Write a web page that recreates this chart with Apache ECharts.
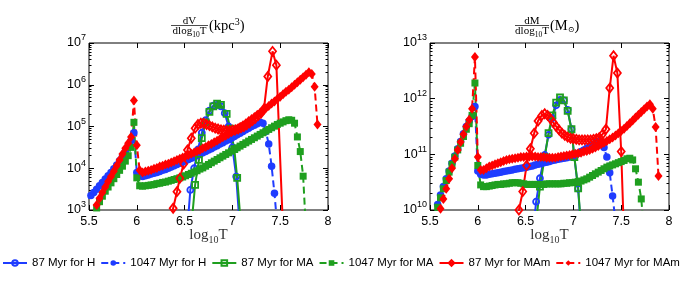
<!DOCTYPE html>
<html>
<head>
<meta charset="utf-8">
<script src="https://cdn.jsdelivr.net/npm/echarts@6.0.0/dist/echarts.min.js"></script>
<style>
html,body{margin:0;padding:0;background:#fff;}
#c{width:682px;height:281px;}
</style>
</head>
<body>
<div id="c"></div>
<script>
// ---------- DATA ----------
const logT = [
5.49,5.52,5.55,5.58,5.61,5.64,5.67,5.70,5.73,5.76,
5.79,5.82,5.85,5.88,5.91,5.94,5.97,6.00,6.03,6.06,
6.09,6.12,6.15,6.18,6.21,6.24,6.27,6.30,6.33,6.36,
6.39,6.42,6.45,6.48,6.51,6.54,6.57,6.60,6.63,6.66,
6.69,6.72,6.75,6.78,6.81,6.84,6.87,6.90,6.93,6.96,
6.99,7.02,7.05,7.08,7.11,7.14,7.17,7.20,7.23,7.26,
7.29,7.32,7.35,7.38,7.41,7.44,7.47,7.50,7.53,7.56,
7.59,7.62,7.65,7.68,7.71,7.74,7.77,7.80,7.83,7.86,
7.89];

const xTicks = [5.5, 6, 6.5, 7, 7.5, 8];
const vYTicks = [1e3, 1e4, 1e5, 1e6, 1e7];
const mYTicks = [1e10, 1e11, 1e12, 1e13];

// dV/dlogT (kpc^3), 1047 Myr series on the logT grid
const vH1047 = [
1900,2240,2630,3160,3800,4570,5500,6610,7940,9770,
12000,15100,19100,25100,33100,45700,70800,7940,6610,6310,
6610,6920,7240,7590,7940,8320,8910,9330,10000,10700,
11500,12300,13200,14100,15100,16200,17400,18600,20000,21400,
23400,25100,27500,29500,32400,34700,38000,40700,44700,47900,
52500,57500,63100,69200,75900,83200,91200,100000,107000,117000,
126000,120000,75900,38000,11200,2510,400];
const vMA1047 = [
355,525,794,1120,1580,2140,2820,3550,4470,5620,
7080,8910,11200,14800,20000,31600,126000,5890,3800,3720,
3800,3890,3980,4070,4270,4370,4570,4680,4900,5130,
5370,5620,5890,6170,6610,7080,7590,8130,8710,9550,
10200,11200,12300,13500,14800,16200,17800,19500,21400,23400,
25700,28200,30900,33900,37200,40700,44700,49000,53700,58900,
64600,70800,77600,85100,93300,102000,112000,120000,129000,138000,
145000,141000,120000,56200,25100,6460,316];
const vMAm1047 = [
400,600,890,1320,1900,2630,3550,4790,6310,8510,
11500,15800,21900,30200,39800,56200,417000,35500,8910,7940,
8320,8710,9120,9770,10200,11000,11500,12300,12900,13800,
14800,15800,17000,18200,19500,20900,22400,24000,25700,27500,
30200,32400,35500,38000,41700,45700,50100,55000,60300,66100,
72400,79400,87100,97700,107000,120000,135000,151000,170000,191000,
214000,240000,275000,309000,355000,398000,457000,513000,589000,676000,
759000,871000,1000000,1150000,1320000,1510000,1740000,2000000,1820000,891000,
112000];

// dV/dlogT, 87 Myr series as [logT, value]
const vH87 = [[6.52,200],[6.56,3020],[6.60,10000],[6.64,28200],[6.68,70800],[6.72,141000],[6.76,240000],
[6.80,316000],[6.84,331000],[6.88,302000],[6.92,209000],[6.96,100000],[7.00,31600],[7.04,6310],[7.08,316]];
const vMA87 = [[6.57,400],[6.61,3980],[6.65,15800],[6.68,52500],[6.72,126000],[6.76,224000],[6.80,302000],
[6.84,355000],[6.88,331000],[6.94,200000],[6.98,89100],[7.02,28800],[7.05,5890],[7.09,400]];
const vMAm87 = [[6.34,316],[6.38,1100],[6.42,2750],[6.45,5750],[6.49,12600],[6.53,27500],[6.57,52500],
[6.61,91200],[6.64,112000],[6.67,120000],[6.70,120000],[6.73,112000],[6.76,105000],[6.79,97700],
[6.82,91200],[6.85,87100],[6.88,83200],[6.91,81300],[6.94,79400],[6.97,79400],[7.00,81300],
[7.03,83200],[7.06,87100],[7.09,93300],[7.12,100000],[7.15,110000],[7.18,123000],[7.21,138000],
[7.24,158000],[7.27,182000],[7.30,209000],[7.33,263000],[7.37,1580000],[7.42,6310000],
[7.46,2950000],[7.53,316]];

// dM/dlogT (Msun), 1047 Myr series on the logT grid
const mH1047 = [
3.98e9,5.62e9,8.32e9,1.26e10,1.86e10,2.63e10,3.63e10,5.01e10,6.92e10,9.33e10,
1.26e11,1.70e11,2.34e11,3.16e11,3.98e11,4.79e11,7.24e11,5.01e10,4.37e10,4.27e10,
4.27e10,4.37e10,4.47e10,4.57e10,4.68e10,4.79e10,4.90e10,5.01e10,5.13e10,5.25e10,
5.37e10,5.50e10,5.62e10,5.75e10,5.89e10,6.03e10,6.17e10,6.46e10,6.61e10,6.76e10,
7.08e10,7.24e10,7.41e10,7.76e10,7.94e10,8.13e10,8.32e10,8.51e10,8.71e10,8.91e10,
9.33e10,9.77e10,1.05e11,1.12e11,1.20e11,1.29e11,1.38e11,1.48e11,1.58e11,1.66e11,
1.70e11,1.32e11,8.91e10,4.68e10,1.78e10,6.31e9];
const mMA1047 = [
3.55e9,5.01e9,7.41e9,1.12e10,1.66e10,2.40e10,3.39e10,4.79e10,6.61e10,8.91e10,
1.20e11,1.58e11,2.09e11,2.82e11,3.55e11,5.01e11,1.91e12,6.31e10,2.82e10,2.63e10,
2.63e10,2.69e10,2.75e10,2.82e10,2.88e10,2.88e10,2.95e10,2.95e10,3.02e10,3.09e10,
3.09e10,3.09e10,3.02e10,2.95e10,2.88e10,2.88e10,2.88e10,2.88e10,2.88e10,2.88e10,
2.88e10,2.95e10,2.95e10,2.95e10,2.95e10,2.95e10,2.95e10,3.02e10,3.02e10,3.09e10,
3.09e10,3.16e10,3.24e10,3.31e10,3.47e10,3.63e10,3.89e10,4.17e10,4.47e10,4.79e10,
5.13e10,5.50e10,5.89e10,6.17e10,6.46e10,6.76e10,7.08e10,7.41e10,7.76e10,8.32e10,
8.51e10,7.94e10,5.50e10,3.16e10,1.58e10,3.98e9];
const mMAm1047 = [
2.51e9,3.55e9,5.01e9,7.08e9,1.05e10,1.58e10,2.40e10,3.63e10,5.62e10,8.32e10,
1.20e11,1.66e11,2.29e11,3.16e11,4.17e11,6.61e11,5.62e12,8.91e10,5.25e10,5.25e10,
5.62e10,6.03e10,6.31e10,6.61e10,6.92e10,7.24e10,7.59e10,7.94e10,8.13e10,8.32e10,
8.51e10,8.71e10,8.91e10,8.91e10,9.12e10,9.12e10,9.12e10,9.12e10,8.91e10,8.91e10,
8.91e10,8.71e10,8.71e10,8.71e10,8.71e10,8.91e10,9.12e10,9.33e10,9.55e10,9.77e10,
1.00e11,1.02e11,1.05e11,1.07e11,1.12e11,1.15e11,1.20e11,1.26e11,1.32e11,1.41e11,
1.51e11,1.62e11,1.74e11,1.86e11,2.00e11,2.19e11,2.40e11,2.63e11,2.88e11,3.24e11,
3.63e11,4.07e11,4.57e11,5.13e11,5.75e11,6.46e11,7.24e11,7.94e11,6.61e11,3.09e11,
4.07e10];

// dM/dlogT, 87 Myr series as [logT, value]
const mH87 = [[6.58,3.98e9],[6.61,1.41e10],[6.65,3.72e10],[6.70,9.77e10],[6.74,2.24e11],[6.78,4.47e11],
[6.82,7.59e11],[6.86,9.55e11],[6.90,9.33e11],[6.94,6.31e11],[6.98,2.82e11],[7.01,8.91e10],[7.05,2.40e10],[7.08,3.98e9]];
const mMA87 = [[6.60,3.98e9],[6.65,2.63e10],[6.70,8.91e10],[6.74,2.40e11],[6.78,5.01e11],[6.82,8.51e11],
[6.86,1.05e12],[6.90,9.33e11],[6.94,6.03e11],[6.98,2.82e11],[7.01,8.91e10],[7.05,2.45e10],[7.08,5.01e9]];
const mMAm87 = [[6.40,3.98e9],[6.43,1.0e10],[6.47,2.14e10],[6.51,6.31e10],[6.55,1.26e11],[6.59,2.40e11],
[6.63,3.98e11],[6.67,5.01e11],[6.70,5.37e11],[6.73,5.01e11],[6.76,4.37e11],[6.79,3.72e11],[6.82,3.16e11],
[6.85,2.75e11],[6.88,2.40e11],[6.91,2.19e11],[6.94,2.04e11],[6.97,1.95e11],[7.00,1.91e11],[7.03,1.86e11],
[7.06,1.82e11],[7.09,1.82e11],[7.12,1.82e11],[7.15,1.82e11],[7.18,1.82e11],[7.21,1.86e11],[7.24,1.91e11],
[7.27,2.00e11],[7.30,2.24e11],[7.34,2.82e11],[7.38,1.55e12],[7.42,5.89e12],[7.46,2.88e12],[7.50,1.12e11],[7.53,3.16e9]];

const names = ['87 Myr for H','1047 Myr for H','87 Myr for MA','1047 Myr for MA','87 Myr for MAm','1047 Myr for MAm'];

// ---------- BUILD ----------
const BLUE = '#1f3cff', GREEN = '#1f9f1f', RED = '#ff0000';
const onGrid = vals => vals.map((v, i) => [logT[i], v]);

function minorTicks(n0, n1) {
  const out = [];
  for (let n = n0; n <= n1; n++) for (let m = 2; m <= 9; m++) out.push(m * Math.pow(10, n));
  return out;
}

function ser(name, data, color, dashed, symbol, size, hollow, g) {
  return {
    type: 'line', name: name, data: data,
    xAxisIndex: g * 2, yAxisIndex: g * 4,
    symbol: symbol, symbolSize: size, showSymbol: true, showAllSymbol: true,
    color: color,
    lineStyle: { color: color, width: 2, type: dashed ? [7, 4] : 'solid' },
    itemStyle: { color: hollow ? 'rgba(255,255,255,0)' : color, borderColor: color, borderWidth: hollow ? 1.8 : 0 },
    emphasis: { disabled: true },
    animation: false
  };
}

function seriesFor(g, H87, H1047, MA87, MA1047, MAm87, MAm1047) {
  return [
    ser(names[0], H87, BLUE, false, 'circle', 6, true, g),
    ser(names[1], onGrid(H1047), BLUE, true, 'circle', 7.5, false, g),
    ser(names[2], MA87, GREEN, false, 'rect', 6, true, g),
    ser(names[3], onGrid(MA1047), GREEN, true, 'rect', 7, false, g),
    ser(names[4], MAm87, RED, false, 'diamond', [7, 9], true, g),
    ser(names[5], onGrid(MAm1047), RED, true, 'diamond', [8, 10], false, g)
  ];
}

const labelRich = {
  b: { fontSize: 12.5, lineHeight: 19, fontFamily: 'Liberation Sans', color: '#000' },
  s: { fontSize: 9, lineHeight: 9, verticalAlign: 'top', fontFamily: 'Liberation Sans', color: '#000' }
};

function xAxes(g) {
  const base = {
    gridIndex: g, type: 'value', min: 5.5, max: 8, interval: 0.5,
    axisLine: { show: false }, splitLine: { show: false },
    axisTick: { inside: true, length: 5, lineStyle: { color: '#000', width: 1 } }
  };
  return [
    Object.assign({}, base, { position: 'bottom',
      axisLabel: { fontSize: 12.5, color: '#000', fontFamily: 'Liberation Sans', margin: 5,
        customValues: xTicks, formatter: v => String(v) } }),
    Object.assign({}, base, { position: 'top', axisLabel: { show: false } })
  ];
}

function yAxes(g, lo, hi, majors, minors) {
  const base = {
    gridIndex: g, type: 'log', logBase: 10, min: lo, max: hi,
    axisLine: { show: false }, splitLine: { show: false }
  };
  const fmt = v => '{b|10}{s|' + Math.round(Math.log10(v)) + '}';
  return [
    Object.assign({}, base, { position: 'left',
      axisTick: { inside: true, length: 5, customValues: majors, lineStyle: { color: '#000' } },
      axisLabel: { customValues: majors, formatter: fmt, rich: labelRich, margin: 3 } }),
    Object.assign({}, base, { position: 'left',
      axisTick: { inside: true, length: 2.5, customValues: minors, lineStyle: { color: '#000' } },
      axisLabel: { show: false } }),
    Object.assign({}, base, { position: 'right',
      axisTick: { inside: true, length: 5, customValues: majors, lineStyle: { color: '#000' } },
      axisLabel: { show: false } }),
    Object.assign({}, base, { position: 'right',
      axisTick: { inside: true, length: 2.5, customValues: minors, lineStyle: { color: '#000' } },
      axisLabel: { show: false } })
  ];
}

const serif = 'Liberation Serif';
function fracTitle(cx, num, x1, x2, rightText) {
  return [
    { type: 'text', x: cx, y: 21.5, style: { text: num, fontFamily: serif, fontSize: 11, fill: '#000', align: 'center', verticalAlign: 'middle' } },
    { type: 'line', shape: { x1: x1, y1: 25.5, x2: x2, y2: 25.5 }, style: { stroke: '#000', lineWidth: 0.7 } },
    { type: 'text', x: cx, y: 31, style: { text: '{a|dlog}{s|10}{a|T}', fill: '#000', align: 'center', verticalAlign: 'middle',
        rich: { a: { fontFamily: serif, fontSize: 11, lineHeight: 12 }, s: { fontFamily: serif, fontSize: 7.5, lineHeight: 8, padding: [6, 0, 0, 0], verticalAlign: 'top' } } } },
    { type: 'text', x: x2 + 1, y: 26, style: { text: rightText, fill: '#000', align: 'left', verticalAlign: 'middle',
        rich: { a: { fontFamily: serif, fontSize: 14.5, lineHeight: 18 }, u: { fontFamily: serif, fontSize: 10, lineHeight: 10, verticalAlign: 'top' },
                d: { fontFamily: 'DejaVu Serif', fontSize: 8, lineHeight: 8, padding: [9, 0, 0, 0], verticalAlign: 'top' } } } }
  ];
}
function xLabel(cx) {
  return { type: 'text', x: cx, y: 235, style: { text: '{a|log}{s|10}{a|T}', fill: '#333', align: 'center', verticalAlign: 'middle',
    rich: { a: { fontFamily: serif, fontSize: 15, lineHeight: 16 }, s: { fontFamily: serif, fontSize: 10, lineHeight: 10, padding: [8, 0, 0, 0], verticalAlign: 'top' } } } };
}

const option = {
  animation: false,
  backgroundColor: '#fff',
  grid: [
    { left: 89, top: 43, width: 239, height: 167, show: true, borderColor: '#000', borderWidth: 1, backgroundColor: 'transparent' },
    { left: 430, top: 43, width: 239, height: 167, show: true, borderColor: '#000', borderWidth: 1, backgroundColor: 'transparent' }
  ],
  xAxis: xAxes(0).concat(xAxes(1)),
  yAxis: yAxes(0, 1e3, 1e7, vYTicks, minorTicks(3, 6)).concat(yAxes(1, 1e10, 1e13, mYTicks, minorTicks(10, 12))),
  legend: {
    data: names, left: 2, top: 257, padding: 0,
    itemWidth: 24, itemHeight: 7, itemGap: 5,
    textStyle: { fontSize: 11.5, color: '#000', fontFamily: 'Liberation Sans' }
  },
  graphic: fracTitle(189.5, 'dV', 171, 208, '{a|(kpc}{u|3}{a|)}')
    .concat(fracTitle(532, 'dM', 515, 549, '{a|(M}{d|⊙}{a|)}'))
    .concat([xLabel(208.5), xLabel(549.5)]),
  series: seriesFor(0, vH87, vH1047, vMA87, vMA1047, vMAm87, vMAm1047)
    .concat(seriesFor(1, mH87, mH1047, mMA87, mMA1047, mMAm87, mMAm1047))
};

const chart = echarts.init(document.getElementById('c'), null, { renderer: 'canvas' });
chart.setOption(option);
</script>
</body>
</html>
